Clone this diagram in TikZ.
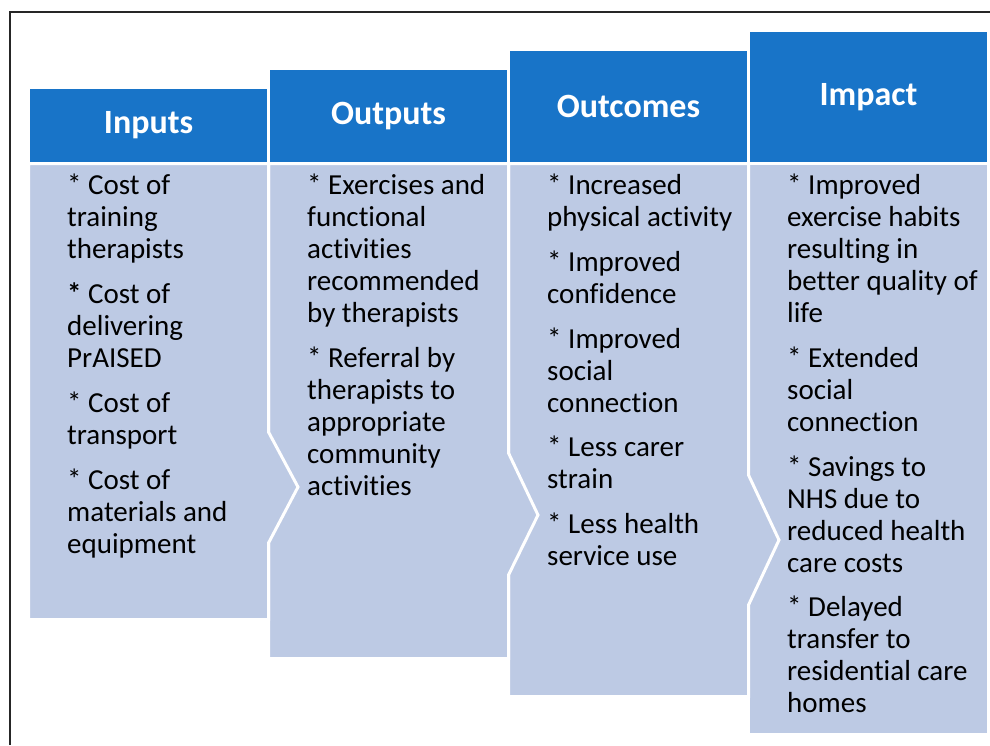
\documentclass[tikz,border=0pt]{standalone}
\usepackage{fontspec}
\setmainfont{Carlito}[Ligatures={NoCommon}]
\usetikzlibrary{positioning}
\definecolor{headblue}{RGB}{24,116,200}
\definecolor{bodyblue}{RGB}{189,202,228}
\begin{document}
\begin{tikzpicture}[x=1pt,y=-1pt]
\tikzstyle{head}=[fill=headblue,minimum width=237pt,anchor=south west,
inner sep=0pt,outer sep=0pt,text=white,font=\fontsize{34}{40}\selectfont\bfseries]
\tikzstyle{body}=[fill=bodyblue,draw=white,line width=3pt,line join=miter]
\tikzstyle{items}=[anchor=north west,align=left,inner sep=0pt,
font=\fontsize{29}{32}\selectfont]

\useasboundingbox (0,0) rectangle (990,745);
\draw[line width=1.5pt,black!85] (10,745) -- (10,12) -- (990,12);

\node[head,minimum height=73pt] (hin) at (30,162) {Inputs};
\node[head,minimum height=92pt] (hout) at (270,162) {Outputs};
\node[head,minimum height=111pt] (hoc) at (510,162) {Outcomes};
\node[head,minimum height=130pt] (him) at (750,162) {Impact};

\path[body] (748.5,163.5) -- (988.5,163.5) -- (988.5,734.5) -- (748.5,734.5) -- cycle;
\path[body] (508.5,163.5) -- (748.5,163.5) -- (748.5,475) -- (779,540) -- (748.5,605)
  -- (748.5,696.5) -- (508.5,696.5) -- cycle;
\path[body] (268.5,163.5) -- (508.5,163.5) -- (508.5,453) -- (538,515) -- (508.5,575)
  -- (508.5,658.5) -- (268.5,658.5) -- cycle;
\path[body] (28.5,163.5) -- (268.5,163.5) -- (268.5,432) -- (298,487) -- (268.5,543)
  -- (268.5,619.5) -- (28.5,619.5) -- cycle;

\node[items] (tin) at (67,174) {* Cost of\\training\\therapists\\[13pt]
\textbf{*} Cost of\\delivering\\PrAISED\\[13pt]
* Cost of\\transport\\[13pt]
* Cost of\\materials and\\equipment};
\node[items] (tout) at (307,174) {* Exercises and\\functional\\activities\\recommended\\by therapists\\[12.5pt]
* Referral by\\therapists to\\appropriate\\community\\activities};
\node[items] (toc) at (547,174) {* Increased\\physical activity\\[13pt]
* Improved\\confidence\\[12.5pt]
* Improved\\social\\connection\\[12.5pt]
* Less carer\\strain\\[12.5pt]
* Less health\\service use};
\node[items] (tim) at (787,174) {* Improved\\exercise habits\\resulting in\\better quality of\\life\\[12.5pt]
* Extended\\social\\connection\\[13pt]
* Savings to\\NHS due to\\reduced health\\care costs\\[12.5pt]
* Delayed\\transfer to\\residential care\\homes};
\end{tikzpicture}
\end{document}
